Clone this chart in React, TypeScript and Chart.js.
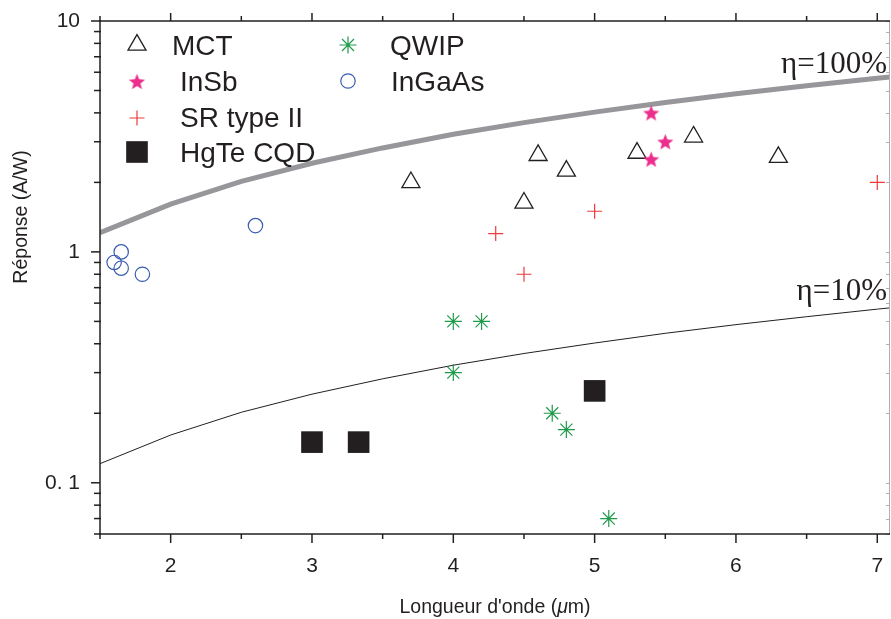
import React, { useEffect, useRef } from 'react';
import { Chart, registerables } from 'chart.js';
import { drawPoint } from 'chart.js/helpers';

Chart.register(...registerables);

// ---------- data ----------
const mctX = [3.7, 4.5, 4.6, 4.8, 5.3, 5.7, 6.3];
const mctY = [2.0, 1.63, 2.62, 2.24, 2.68, 3.15, 2.57];
const insbX = [5.4, 5.5, 5.4];
const insbY = [4.0, 3.0, 2.52];
const srX = [4.3, 4.5, 5.0, 7.0];
const srY = [1.2, 0.8, 1.5, 2.0];
const hgteX = [3.0, 3.33, 5.0];
const hgteY = [0.15, 0.15, 0.25];
const qwipX = [4.0, 4.2, 4.0, 4.7, 4.8, 5.1];
const qwipY = [0.5, 0.5, 0.3, 0.2, 0.17, 0.07];
const ingaasX = [2.6, 1.6, 1.65, 1.65, 1.8];
const ingaasY = [1.3, 0.9, 1.0, 0.85, 0.8];

const etaX = [1.5, 2, 2.5, 3, 3.5, 4, 4.5, 5, 5.5, 6, 6.5, 7, 7.1];
const eta100Y = [1.21, 1.61, 2.02, 2.42, 2.82, 3.23, 3.63, 4.03, 4.44, 4.84, 5.24, 5.65, 5.73];
const eta10Y = [0.121, 0.161, 0.202, 0.242, 0.282, 0.323, 0.363, 0.403, 0.444, 0.484, 0.524, 0.565, 0.573];

const xMajorTicks = [2, 3, 4, 5, 6, 7];
const xMinorTicks = [1.5, 2.5, 3.5, 4.5, 5.5, 6.5];
const xTickLabels = ['2', '3', '4', '5', '6', '7'];
const yMajorTicks = [0.1, 1, 10];
const yMinorTicks = [0.06, 0.07, 0.08, 0.09, 0.2, 0.3, 0.4, 0.5, 0.6, 0.7, 0.8, 0.9, 2, 3, 4, 5, 6, 7, 8, 9];
const yTickLabels = ['0. 1', '1', '10'];

const seriesLabels = ['InSb', 'MCT', 'SR type II', 'HgTe CQD', 'QWIP', 'InGaAs'];
const xTitle = ["Longueur d'onde (", 'μ', 'm)'];
const yTitle = 'Réponse (A/W)';
const eta100Label = 'η=100%';
const eta10Label = 'η=10%';

const SANS = "'Liberation Sans', Arial, sans-serif";
const SERIF = "'Liberation Serif', 'Times New Roman', serif";
const INK = '#231f20';
const CLEAR = 'rgba(0,0,0,0)';

function toPoints(xs: number[], ys: number[]) {
  return xs.map((x, i) => ({ x, y: ys[i] }));
}

function makeStar(color: string, outer: number, inner: number) {
  const size = Math.ceil(outer * 2 + 2);
  const c = document.createElement('canvas');
  c.width = size;
  c.height = size;
  const g = c.getContext('2d')!;
  const cx = size / 2;
  const cy = size / 2 + outer * 0.095;
  g.beginPath();
  for (let i = 0; i < 10; i++) {
    const r = i % 2 === 0 ? outer : inner;
    const a = -Math.PI / 2 + (i * Math.PI) / 5;
    const px = cx + r * Math.cos(a);
    const py = cy + r * Math.sin(a);
    if (i === 0) g.moveTo(px, py);
    else g.lineTo(px, py);
  }
  g.closePath();
  g.fillStyle = color;
  g.fill();
  return c;
}

// legend layout (marker centre, text baseline start) per series label
const legendLayout: Record<string, { mx: number; my: number; tx: number; ty: number }> = {
  MCT: { mx: 137, my: 45, tx: 172, ty: 55 },
  InSb: { mx: 137, my: 81.5, tx: 180, ty: 91 },
  'SR type II': { mx: 137, my: 118, tx: 180, ty: 127 },
  'HgTe CQD': { mx: 137, my: 152, tx: 180, ty: 162 },
  QWIP: { mx: 348, my: 45, tx: 390, ty: 55 },
  InGaAs: { mx: 348, my: 81, tx: 391, ty: 91 },
};

const zeroPad = (s: any) => {
  s.paddingTop = 0;
  s.paddingBottom = 0;
  s.paddingLeft = 0;
  s.paddingRight = 0;
};

const decorPlugin = {
  id: 'decor',
  afterDraw(chart: any) {
    const { ctx, chartArea: a, scales } = chart;
    const xs = scales.x;
    const ys = scales.y;
    const L = a.left, R = a.right, T = a.top, B = a.bottom;
    const seg = (x1: number, y1: number, x2: number, y2: number) => {
      ctx.beginPath();
      ctx.moveTo(x1, y1);
      ctx.lineTo(x2, y2);
      ctx.stroke();
    };
    ctx.save();
    // right axis (light gray) with inward ticks
    ctx.strokeStyle = '#b0b0b0';
    ctx.lineWidth = 1;
    seg(R - 0.5, T, R - 0.5, B);
    [...yMajorTicks, ...yMinorTicks].forEach((v) => {
      const py = Math.round(ys.getPixelForValue(v)) + 0.5;
      seg(R - 4, py, R, py);
    });
    // main axes
    ctx.strokeStyle = INK;
    ctx.lineWidth = 1.5;
    seg(L, T, L, B + 0.75);
    seg(L - 0.75, B, R, B);
    seg(L - 0.75, T, R, T);
    // bottom & top ticks
    xMajorTicks.forEach((v) => {
      const px = xs.getPixelForValue(v);
      seg(px, B, px, B + 9);
      seg(px, T, px, T - 8);
    });
    xMinorTicks.forEach((v) => {
      const px = xs.getPixelForValue(v);
      seg(px, B, px, B + 5);
      seg(px, T, px, T - 5);
    });
    // left ticks
    yMajorTicks.forEach((v) => {
      const py = ys.getPixelForValue(v);
      seg(L - 9, py, L, py);
    });
    yMinorTicks.forEach((v) => {
      const py = ys.getPixelForValue(v);
      seg(L - 6, py, L + 1, py);
    });

    // axis titles
    ctx.fillStyle = INK;
    ctx.textBaseline = 'alphabetic';
    const tf = 19.5;
    const normal = `${tf}px ${SANS}`;
    const italic = `italic ${tf}px ${SANS}`;
    ctx.font = normal;
    const w0 = ctx.measureText(xTitle[0]).width;
    const w2 = ctx.measureText(xTitle[2]).width;
    ctx.font = italic;
    const w1 = ctx.measureText(xTitle[1]).width;
    const total = w0 + w1 + w2;
    let sx = (L + R) / 2 - total / 2;
    const by = 613;
    ctx.textAlign = 'left';
    ctx.font = normal;
    ctx.fillText(xTitle[0], sx, by);
    sx += w0;
    ctx.font = italic;
    ctx.fillText(xTitle[1], sx, by);
    sx += w1;
    ctx.font = normal;
    ctx.fillText(xTitle[2], sx, by);

    ctx.save();
    ctx.translate(27, 217);
    ctx.rotate(-Math.PI / 2);
    ctx.textAlign = 'center';
    ctx.font = normal;
    ctx.fillText(yTitle, 0, 0);
    ctx.restore();

    // eta labels
    ctx.font = `31px ${SERIF}`;
    ctx.textAlign = 'right';
    ctx.fillText(eta100Label, R - 3, 73);
    ctx.fillText(eta10Label, R - 3, 300);

    // legend
    ctx.font = `28px ${SANS}`;
    ctx.textAlign = 'left';
    chart.data.datasets.forEach((ds: any) => {
      const lay = legendLayout[ds.label];
      if (!lay) return;
      ctx.save();
      ctx.strokeStyle = ds.borderColor;
      ctx.fillStyle = ds.backgroundColor;
      ctx.lineWidth = ds.borderWidth;
      drawPoint(
        ctx,
        { pointStyle: ds.pointStyle, radius: ds.pointRadius, rotation: 0, borderWidth: ds.borderWidth } as any,
        lay.mx,
        lay.my
      );
      ctx.restore();
      ctx.fillStyle = INK;
      ctx.fillText(ds.label, lay.tx, lay.ty);
    });
    ctx.restore();
  },
};

export default function App() {
  const ref = useRef<HTMLCanvasElement | null>(null);

  useEffect(() => {
    if (!ref.current) return;
    const star = makeStar('#ec2f8c', 8.5, 3.7);
    const chart = new Chart(ref.current, {
      type: 'scatter',
      data: {
        datasets: [
          {
            label: seriesLabels[0],
            data: toPoints(insbX, insbY),
            pointStyle: star as any,
            pointRadius: 8,
            borderColor: '#ec2f8c',
            backgroundColor: '#ec2f8c',
            borderWidth: 0,
          },
          {
            label: seriesLabels[1],
            data: toPoints(mctX, mctY),
            pointStyle: 'triangle',
            pointRadius: 10.4,
            borderColor: INK,
            backgroundColor: CLEAR,
            borderWidth: 1.3,
          },
          {
            label: seriesLabels[2],
            data: toPoints(srX, srY),
            pointStyle: 'cross',
            pointRadius: 7.5,
            borderColor: '#ee3b3b',
            backgroundColor: '#ee3b3b',
            borderWidth: 1.2,
          },
          {
            label: seriesLabels[3],
            data: toPoints(hgteX, hgteY),
            pointStyle: 'rect',
            pointRadius: 15.3,
            borderColor: INK,
            backgroundColor: INK,
            borderWidth: 0,
          },
          {
            label: seriesLabels[4],
            data: toPoints(qwipX, qwipY),
            pointStyle: 'star',
            pointRadius: 8.5,
            borderColor: '#1f9a4a',
            backgroundColor: '#1f9a4a',
            borderWidth: 1.2,
          },
          {
            label: seriesLabels[5],
            data: toPoints(ingaasX, ingaasY),
            pointStyle: 'circle',
            pointRadius: 7.2,
            borderColor: '#3a5bb0',
            backgroundColor: CLEAR,
            borderWidth: 1.2,
          },
          {
            label: 'eta100',
            type: 'line',
            data: toPoints(etaX, eta100Y),
            showLine: true,
            pointRadius: 0,
            borderColor: '#97979b',
            borderWidth: 5,
            tension: 0,
            fill: false,
          } as any,
          {
            label: 'eta10',
            type: 'line',
            data: toPoints(etaX, eta10Y),
            showLine: true,
            pointRadius: 0,
            borderColor: INK,
            borderWidth: 1,
            tension: 0,
            fill: false,
          } as any,
        ],
      },
      options: {
        animation: false,
        responsive: false,
        events: [],
        layout: { autoPadding: false, padding: { top: 21, right: 1, left: 0, bottom: 0 } },
        plugins: { legend: { display: false }, tooltip: { enabled: false } },
        scales: {
          x: {
            type: 'linear',
            position: 'bottom',
            min: 1.5,
            max: 7.09,
            grid: {
              display: true,
              drawOnChartArea: false,
              drawTicks: true,
              tickLength: 20,
              color: CLEAR,
              tickColor: CLEAR,
            },
            border: { display: false },
            ticks: {
              font: { family: SANS, size: 21 },
              color: INK,
              padding: 0,
              autoSkip: false,
              maxRotation: 0,
              callback: (_v: any, i: number) => xTickLabels[i],
            },
            afterBuildTicks: (s: any) => {
              s.ticks = xMajorTicks.map((value) => ({ value }));
            },
            afterFit: (s: any) => {
              s.height = 85;
              zeroPad(s);
            },
          },
          y: {
            type: 'logarithmic',
            min: 0.06,
            max: 10,
            grid: { display: false, drawTicks: false },
            border: { display: false },
            ticks: {
              font: { family: SANS, size: 21 },
              color: INK,
              padding: 20,
              autoSkip: false,
              callback: (_v: any, i: number) => yTickLabels[i],
            },
            afterBuildTicks: (s: any) => {
              s.ticks = yMajorTicks.map((value) => ({ value }));
            },
            afterFit: (s: any) => {
              s.width = 100;
              zeroPad(s);
            },
          },
        },
      } as any,
      plugins: [decorPlugin],
    });
    return () => chart.destroy();
  }, []);

  return (
    <canvas
      ref={ref}
      width={891}
      height={619}
      style={{ position: 'absolute', left: 0, top: 0, background: '#fff' }}
    />
  );
}
